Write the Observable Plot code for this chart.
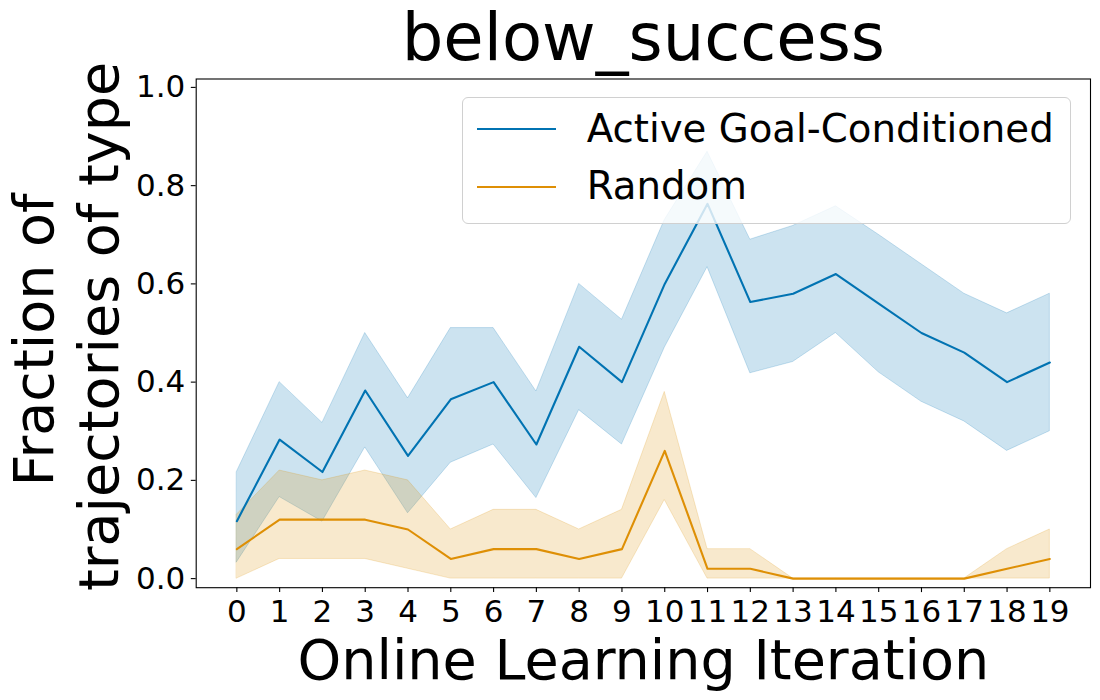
<!DOCTYPE html>
<html>
<head>
<meta charset="utf-8">
<script src="https://cdn.jsdelivr.net/npm/d3@7"></script>
<script src="https://cdn.jsdelivr.net/npm/@observablehq/plot@0.6"></script>
<style>
  html, body { margin: 0; padding: 0; background: #fff; }
  #wrap { position: relative; width: 1100px; height: 700px; font-family: "DejaVu Sans", sans-serif; }
  #legend {
    position: absolute; left: 462px; top: 97px; width: 607px; height: 125px;
    border: 1px solid #d0d0d0; border-radius: 6px; background: rgba(255,255,255,0.8);
  }
  .row { position: absolute; left: 0; height: 40px; display: flex; align-items: center; }
  .swatch { position: absolute; left: 13.5px; width: 79.5px; height: 2.1px; }
  .label { position: absolute; left: 123.7px; font-size: 38.7px; line-height: 1; white-space: nowrap; color: #000; }
</style>
</head>
<body>
<div id="wrap"></div>
<script>
// ---- data ----
const title = "below_success";
const xLabel = "Online Learning Iteration";
const yLabelLines = ["Fraction of", "trajectories of type"];
const seriesNames = ["Active Goal-Conditioned", "Random"];
const seriesColors = ["#0173b2", "#de8f05"];
const iterations = [0, 1, 2, 3, 4, 5, 6, 7, 8, 9, 10, 11, 12, 13, 14, 15, 16, 17, 18, 19];
const yTicks = [0.0, 0.2, 0.4, 0.6, 0.8, 1.0];

const activeMean = [0.117, 0.283, 0.217, 0.383, 0.25, 0.365, 0.4, 0.273, 0.472, 0.4, 0.6, 0.763, 0.563, 0.58, 0.62, 0.56, 0.5, 0.46, 0.4, 0.44];
const activeLow  = [0.033, 0.166, 0.116, 0.267, 0.133, 0.236, 0.273, 0.164, 0.343, 0.273, 0.47, 0.634, 0.418, 0.441, 0.5, 0.42, 0.36, 0.32, 0.26, 0.3];
const activeHigh = [0.217, 0.4, 0.317, 0.5, 0.367, 0.51, 0.51, 0.381, 0.6, 0.527, 0.73, 0.869, 0.69, 0.718, 0.758, 0.7, 0.64, 0.58, 0.54, 0.58];

const randomMean = [0.06, 0.12, 0.12, 0.12, 0.1, 0.04, 0.06, 0.06, 0.04, 0.06, 0.26, 0.02, 0.02, 0, 0, 0, 0, 0, 0.02, 0.04];
const randomLow  = [0, 0.04, 0.04, 0.04, 0.02, 0, 0, 0, 0, 0, 0.16, 0, 0, 0, 0, 0, 0, 0, 0, 0];
const randomHigh = [0.13, 0.22, 0.2, 0.22, 0.2, 0.1, 0.14, 0.14, 0.1, 0.14, 0.38, 0.06, 0.06, 0, 0, 0, 0, 0, 0.06, 0.1];

// ---- table ----
const seriesData = [
  {name: seriesNames[0], mean: activeMean, low: activeLow, high: activeHigh},
  {name: seriesNames[1], mean: randomMean, low: randomLow, high: randomHigh}
];
const rows = seriesData.flatMap(s => iterations.map((it, i) => ({
  iter: it, series: s.name, mean: s.mean[i], low: s.low[i], high: s.high[i]
})));

const font = "DejaVu Sans";

const chart = Plot.plot({
  width: 1100,
  height: 700,
  marginLeft: 195.7,
  marginRight: 10,
  marginTop: 78.5,
  marginBottom: 112.8,
  style: {fontFamily: font, background: "white", color: "black", overflow: "visible"},
  x: {domain: [-0.95, 19.95], axis: null},
  y: {domain: [-0.0185, 1.0171], axis: null},
  color: {domain: seriesNames, range: seriesColors},
  marks: [
    Plot.areaY(rows, {x: "iter", y1: "low", y2: "high", z: "series", fill: "series", fillOpacity: 0.2, stroke: "series", strokeOpacity: 0.2, strokeWidth: 1}),
    Plot.lineY(rows, {x: "iter", y: "mean", z: "series", stroke: "series", strokeWidth: 2.1}),
    Plot.frame({stroke: "black", strokeWidth: 1.1}),
    Plot.axisX(iterations, {tickSize: 4.9, tickPadding: 7, fontSize: 31, tickFormat: d => String(d), label: null, strokeWidth: 1.1}),
    Plot.axisY(yTicks, {tickSize: 4.9, tickPadding: 6, fontSize: 31, tickFormat: d => d.toFixed(1), label: null, strokeWidth: 1.1}),
    Plot.text([title], {frameAnchor: "top", text: d => d, textAnchor: "middle", lineAnchor: "bottom", dy: -19.5, fontSize: 65.6, fill: "black"}),
    Plot.text([xLabel], {frameAnchor: "bottom", text: d => d, textAnchor: "middle", lineAnchor: "bottom", dy: 90.8, fontSize: 55.6, fill: "black"}),
    Plot.text([yLabelLines[0]], {frameAnchor: "left", text: d => d, textAnchor: "middle", lineAnchor: "bottom", rotate: -90, dx: -143.5, dy: 6.6, fontSize: 55.6, fill: "black"}),
    Plot.text([yLabelLines[1]], {frameAnchor: "left", text: d => d, textAnchor: "middle", lineAnchor: "bottom", rotate: -90, dx: -78, dy: -6.9, fontSize: 55.6, fill: "black"})
  ]
});

const wrap = document.getElementById("wrap");
wrap.appendChild(chart);

// ---- legend ----
const legend = document.createElement("div");
legend.id = "legend";
seriesNames.forEach((name, i) => {
  const row = document.createElement("div");
  row.className = "row";
  row.style.top = (31 - 20 + i * 57.7) + "px";
  row.style.width = "100%";
  const sw = document.createElement("div");
  sw.className = "swatch";
  sw.style.background = seriesColors[i];
  const lb = document.createElement("span");
  lb.className = "label";
  lb.textContent = name;
  row.appendChild(sw);
  row.appendChild(lb);
  legend.appendChild(row);
});
wrap.appendChild(legend);
</script>
</body>
</html>
